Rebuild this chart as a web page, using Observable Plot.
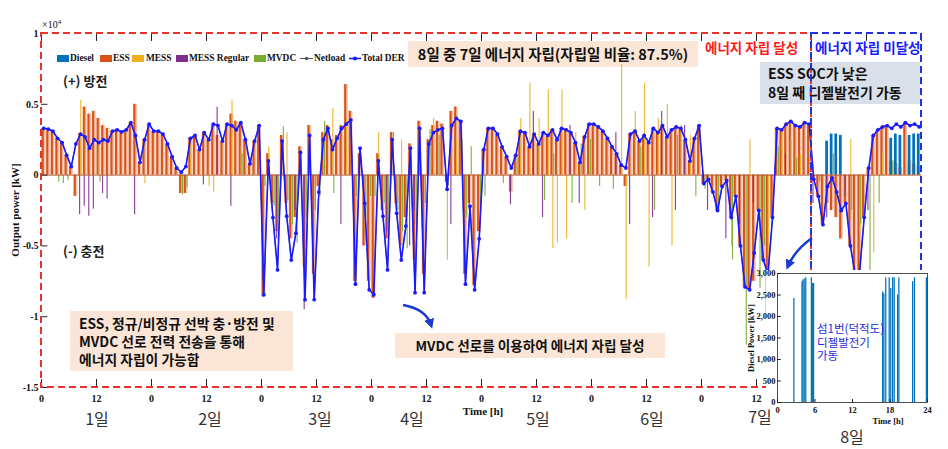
<!DOCTYPE html>
<html><head><meta charset="utf-8">
<script src="https://cdn.jsdelivr.net/npm/d3@7"></script>
<script src="https://cdn.jsdelivr.net/npm/@observablehq/plot@0.6"></script>
<style>
body{margin:0;background:#fff;}
#wrap{position:relative;width:948px;height:449px;overflow:hidden;font-family:"Noto Sans CJK KR","Noto Sans",sans-serif;}
.abs{position:absolute;white-space:nowrap;}
.box{position:absolute;white-space:nowrap;font-weight:700;color:#111;background:#fbe5d6;box-sizing:border-box;}
.serif{font-family:"Liberation Serif","Times New Roman",serif;font-weight:bold;color:#111;}
.day{position:absolute;font-size:16px;color:#333;transform:translateX(-50%);}
.leg{position:absolute;top:53px;font-family:"Liberation Serif",serif;font-weight:bold;font-size:9.4px;color:#111;}
.sw{position:absolute;top:55px;width:12px;height:7px;}
</style></head><body><div id="wrap"></div>
<script>
// ---------------- data ----------------
// Total DER / Netload, hourly, 8 days (kW)
const netload = [
 3300,3250,3100,2600,2300,1400,600,2200,2900,2700,1900,2500,2300,2500,2400,3100,3200,3050,3200,3700,2800,900,2500,3600,
 3100,3100,2900,2200,1300,500,200,600,2600,2800,1800,3000,2500,3600,3500,2400,3600,3500,3200,3700,2500,800,2400,3500,
 -8450,1000,-3000,-6700,2400,-2900,-6000,-4100,1600,-8800,2800,-8800,-1200,2500,3300,1800,2600,3300,3600,3900,-7700,1900,-2000,-8100,
 -8450,1000,-2900,-6700,2500,-2700,-6000,-3600,1900,-8300,3300,-8300,2200,3000,3200,3300,-1000,3500,4000,3800,-7700,-2200,-8100,-4500,
 1800,3300,3300,2900,2000,1300,500,1400,3100,3000,2000,2900,2200,3000,2800,3200,2500,3300,3200,3000,2300,900,2700,3600,
 3600,3400,3100,2600,2000,1500,700,500,2900,3100,2400,2800,2300,3300,3000,3500,2700,3200,3400,3300,2500,1000,2600,3500,
 -600,-300,-1200,-2500,-800,-400,-3000,-1500,-5000,-7900,-8100,-5500,-2500,-6000,-7000,-3000,3300,3200,3600,3800,3500,3400,3700,3600,
 -300,-1500,-3500,-800,-200,-1200,-2500,-2000,-5000,-7000,-6800,-3000,500,2800,3200,3400,3500,3300,3600,3400,3700,3500,3600,3400
];
const ess = [
 3300,3250,3100,2600,2300,1400,600,-1500,2900,4800,4300,4500,4000,3500,3300,3100,3200,3050,3200,3700,5000,900,2500,3600,
 3100,3100,2900,2200,1300,500,-1300,-1300,2600,2800,1800,3000,2500,3600,2800,2400,3600,4300,3800,3700,2500,800,2400,3500,
 -8600,1500,-2000,-4000,2800,-2000,-4500,-3000,2000,-6500,3500,-7000,-800,3000,3500,2500,2800,3500,6400,4500,-7500,1500,-5000,-7500,
 -8700,1500,-2500,-4500,3000,-2000,-5000,-3000,2200,-6000,3800,-7000,2500,3500,3800,3600,-500,4500,4800,3800,-7000,-2000,-7800,-4000,
 1800,3300,3300,2900,2000,1300,-1200,1400,3100,3000,2000,2900,2200,3000,2800,3200,2500,3300,3200,3000,2300,900,2700,3600,
 3600,3400,3100,2600,2000,1500,700,-800,2900,3100,2400,2800,2300,3300,3000,3500,2700,3200,3400,3300,2500,1000,2600,3500,
 -600,-300,-1200,-2500,-800,-400,-3000,-1500,-5000,-7900,-8100,-7500,-2500,-6000,-9800,-3000,3300,3200,3600,3800,3500,3400,3700,3600,
 -300,-1500,-3500,-2000,-2500,-3000,-4500,-2000,-5000,-7000,-6800,-3000,500,2800,3200,3400,3500,1000,800,500,3700,1000,800,600
];
// sparse [hour, kW]
const mess = [[8,5300],[9,4500],[12,2500],[16,1500],[22,-600],[32,2500],[36,-800],[37,-1200],[41,5300],[43,2000],
 [49,2000],[53,3000],[57,-9000],[58,1500],[63,4700],[66,4000],[73,3000],[78,2500],[85,4000],[88,-6000],[90,2500],
 [104,4000],[106,6500],[108,4000],[110,6000],[111,-5200],[112,-4800],[113,6000],[114,-4500],[116,3000],[118,-2500],
 [122,2500],[126,7800],[127,-8800],[129,4500],[131,6500],[132,-6500],[134,4000],[136,5000],[137,-5000],[139,3500],[141,2800],[143,3000],
 [147,-2000],[150,-5000],[154,2500],[158,-7500],[161,3000],[163,2500],[165,1500],[170,-1000],[176,2500],[178,-4000],[181,-5500],[183,1500]];
const messRegular = [[8,-2800],[9,-2200],[10,-2900],[11,-2400],[13,-1300],[14,-1700],[20,-2800],[35,-700],[38,4800],[41,-2200],
 [51,-4500],[55,-2500],[57,-9500],[65,-3500],[69,1500],[75,-4000],[80,-5000],[81,-2500],[89,-3500],[93,-2500],
 [102,-2100],[107,4500],[109,-3000],[115,3500],[117,-2000],[125,3000],[128,-3500],[133,-3000],[135,4500],[138,-2500],[140,3500],
 [145,-2500],[149,-4500],[152,-3500],[155,-2000],[162,1500],[168,-2000],[171,-3000],[175,-1500],[180,-2500]];
const mvdc = [[3,-500],[4,-600],[5,-400],[12,-500],[30,-1400],[31,-900],[43,1500],
 [48,-800],[50,-2200],[51,-3000],[52,3400],[53,-1800],[54,-3500],[55,-4800],[57,-3000],[59,-2500],[60,-1500],[61,3800],[63,-1300],[67,1000],[68,-1500],[70,-3000],[71,-1500],
 [72,-1500],[74,-2000],[75,-3500],[76,3000],[77,-2500],[78,-4000],[79,-5200],[81,-3500],[83,-2000],[84,3200],[86,2800],[88,-800],[91,2500],[92,-3000],[93,2000],[95,-2500],
 [96,-1500],[100,-600],[103,1200],[109,-1800],[111,1500],[115,-2000],[117,2200],[119,2500],
 [121,-800],[124,-1000],[130,2000],[133,-2500],[138,2800],[142,-1500],
 [144,-1000],[147,-2500],[150,-6000],[153,-12000],[156,-8000],[157,-5000],[160,2000],[164,1200],
 [169,-500],[172,1500],[176,-2500],[178,-3500],[180,-7000],[182,-2000],[185,1000]];
const diesel = [[171,2400],[172,2900],[173,2900],[174,2800],[185,2600],[186,2900],[187,2800],[189,2800],[190,2900],[191,2900]];
// inset: day 8 diesel operation [hour, kW]
const dieselInset = [[2.7,2420],[4.0,2810],[4.15,2850],[4.35,2870],[4.6,2900],[5.5,2900],[5.65,2770],[5.85,2770],
 [16.9,2570],[17.1,2530],[17.4,2900],[17.95,2900],[18.2,2650],[18.5,2900],[18.75,2900],[19.3,2500],[19.5,2900],
 [21.7,2810],[22.0,2900],[23.9,2900]];

const xTickHours = [0,12,24,36,48,60,72,84,96,108,120,132,144,156,168,180,192];
const xTickLabels = ["0","12","0","12","0","12","0","12","0","12","0","12","0","12","0","12","0"];
const yTickValues = [-15000,-10000,-5000,0,5000,10000];
const yTickLabels = ["-1.5","-1","-0.5","0","0.5","1"];
const insetXTicks = [0,6,12,18,24];
const insetYTicks = [0,500,1000,1500,2000,2500,3000];
const dayLabels = ["1일","2일","3일","4일","5일","6일","7일","8일"];

const C = {diesel:"#0072BD", ess:"#D95319", mess:"#EDB120", messR:"#7E2F8E", mvdc:"#77AC30", der:"#1a1aff", net:"#555"};

const netRows = netload.map((v,i)=>({t:i+0.5, v}));
const essRows = ess.map((v,i)=>({t:i, v}));
const pairRows = a => a.map(([h,v])=>({t:h, v}));

const wrap = document.getElementById("wrap");
function add(html){ wrap.insertAdjacentHTML("beforeend", html); }

// annotation boxes (beneath the data)
add(`<div class="box" style="left:408px;top:41px;width:290px;height:26px;font-size:14.5px;line-height:26px;text-align:center;">8일 중 7일 에너지 자립(자립일 비율: 87.5%)</div>`);
add(`<div class="box" style="left:760px;top:62px;width:160px;height:42px;background:#dae0ea;font-size:14px;line-height:19px;padding:2px 0 0 8px;">ESS SOC가 낮은<br>8일 째 디젤발전기 가동</div>`);
add(`<div class="box" style="left:70px;top:311px;width:223px;height:60px;font-size:13.8px;line-height:18px;padding:3px 0 0 9px;">ESS, 정규/비정규 선박 충·방전 및<br>MVDC 선로 전력 전송을 통해<br>에너지 자립이 가능함</div>`);
add(`<div class="box" style="left:395px;top:333px;width:270px;height:25px;font-size:13.6px;line-height:25px;text-align:center;">MVDC 선로를 이용하여 에너지 자립 달성</div>`);

const serif = "'Liberation Serif','Times New Roman',serif";
const yMin = -15000, yMax = 10000;

const main = Plot.plot({
  width: 948, height: 449,
  marginLeft: 41, marginRight: 27, marginTop: 33, marginBottom: 62,
  x: {domain: [0, 192]},
  y: {domain: [yMin, yMax]},
  style: {background: "transparent", fontFamily: serif, fontSize: "10px", fontWeight: "bold", color: "#111"},
  marks: [
    Plot.rect(essRows, {x1: d=>d.t+0.05, x2: d=>d.t+0.95, y1: 0, y2: "v", fill: C.ess, fillOpacity: 0.35}),
    Plot.rect(essRows, {x1: d=>d.t+0.15, x2: d=>d.t+0.6, y1: 0, y2: "v", fill: C.ess}),
    Plot.rect(pairRows(diesel), {x1: d=>d.t+0.1, x2: d=>d.t+0.7, y1: 0, y2: "v", fill: C.diesel}),
    Plot.rect(pairRows(mess), {x1: d=>d.t+0.55, x2: d=>d.t+0.8, y1: 0, y2: "v", fill: C.mess, fillOpacity: 0.9}),
    Plot.rect(pairRows(messRegular), {x1: d=>d.t+0.3, x2: d=>d.t+0.55, y1: 0, y2: "v", fill: C.messR, fillOpacity: 0.9}),
    Plot.rect(pairRows(mvdc), {x1: d=>d.t+0.75, x2: d=>d.t+1.0, y1: 0, y2: "v", fill: C.mvdc, fillOpacity: 0.9}),
    Plot.ruleY([0], {stroke: "#b5582a", strokeWidth: 1}),
    Plot.line(netRows, {x: "t", y: "v", stroke: C.net, strokeWidth: 0.8}),
    Plot.line(netRows, {x: "t", y: "v", stroke: C.der, strokeWidth: 1.6}),
    Plot.dot(netRows, {x: "t", y: "v", r: 1.9, fill: C.der, stroke: "none"}),
    // inward ticks
    Plot.ruleX(xTickHours, {x: d=>d, y1: yMax, y2: yMax - 560, stroke: "#222"}),
    Plot.ruleX(xTickHours, {x: d=>d, y1: yMin, y2: yMin + 560, stroke: "#222"}),
    Plot.ruleY(yTickValues, {y: d=>d, x1: 0, x2: 1.4, stroke: "#222"}),
    // dashed boxes
    Plot.rect([0], {x1: 0, x2: 168, y1: yMin, y2: yMax, fill: "none", stroke: "#e8322c", strokeWidth: 2, strokeDasharray: "7,4"}),
    Plot.rect([0], {x1: 168, x2: 192, y1: yMin, y2: yMax, fill: "none", stroke: "#2233dd", strokeWidth: 2, strokeDasharray: "7,4"}),
    Plot.axisX(xTickHours, {tickSize: 0, tickPadding: 7, label: null, tickFormat: d => xTickLabels[xTickHours.indexOf(d)]}),
    Plot.axisY(yTickValues, {tickSize: 0, tickPadding: 3, label: null, tickFormat: d => yTickLabels[yTickValues.indexOf(d)]})
  ]
});
main.style.position = "absolute"; main.style.left = "0px"; main.style.top = "0px";
wrap.appendChild(main);

// overlay texts
add(`<div class="abs serif" style="left:42px;top:18px;font-size:10px;font-weight:normal;">×10<sup style="font-size:7px">4</sup></div>`);
add(`<div class="abs serif" style="left:15px;top:210px;font-size:11px;transform:translate(-50%,-50%) rotate(-90deg);">Output power [kW]</div>`);
add(`<div class="abs serif" style="left:483px;top:411px;font-size:11px;transform:translate(-50%,-50%);">Time [h]</div>`);
add(`<div class="abs" style="left:63px;top:71px;font-size:13px;font-weight:700;color:#222;">(+) 방전</div>`);
add(`<div class="abs" style="left:63px;top:241px;font-size:13px;font-weight:700;color:#222;">(-) 충전</div>`);
add(`<div class="abs" style="left:705px;top:37px;font-size:13.5px;font-weight:700;color:#ff1a1a;">에너지 자립 달성</div>`);
add(`<div class="abs" style="left:815px;top:37px;font-size:13.5px;font-weight:700;color:#1a1aff;">에너지 자립 미달성</div>`);

// legend
const legItems = [
  {name:"Diesel", color:C.diesel, sw:57, tx:70},
  {name:"ESS", color:C.ess, sw:100, tx:113},
  {name:"MESS", color:C.mess, sw:132, tx:146},
  {name:"MESS Regular", color:C.messR, sw:176, tx:189},
  {name:"MVDC", color:C.mvdc, sw:254, tx:267}
];
legItems.forEach(it=>{
  add(`<div class="sw" style="left:${it.sw}px;background:${it.color}"></div><div class="leg" style="left:${it.tx}px">${it.name}</div>`);
});
add(`<svg class="abs" style="left:0;top:0" width="948" height="449">
  <line x1="300" y1="58.5" x2="313" y2="58.5" stroke="#555" stroke-width="1"/><circle cx="306.5" cy="58.5" r="1.8" fill="#555"/>
  <line x1="349" y1="58.5" x2="361" y2="58.5" stroke="#1a1aff" stroke-width="1.6"/><circle cx="355" cy="58.5" r="2" fill="#1a1aff"/>
  <defs><marker id="ah" viewBox="0 0 10 10" refX="6" refY="5" markerWidth="4" markerHeight="4" orient="auto"><path d="M0,0 L10,5 L0,10 z" fill="#1a3ad0"/></marker></defs>
  <path d="M403,305 Q426,309 431,325" fill="none" stroke="#1a3ad0" stroke-width="2.5" marker-end="url(#ah)"/>
  <path d="M812,238 Q795,250 788,266" fill="none" stroke="#1a3ad0" stroke-width="2.5" marker-end="url(#ah)"/>
</svg>`);
add(`<div class="leg" style="left:314px">Netload</div><div class="leg" style="left:362px">Total DER</div>`);

// day labels
const dayX = [97,210,320,412,538,652,760,852];
const dayY = [406,406,406,406,406,406,404,424];
dayLabels.forEach((s,i)=>{ if(i<6) add(`<div class="day" style="left:${dayX[i]}px;top:${dayY[i]}px">${s}</div>`); });

// inset
add(`<div class="abs" style="left:766px;top:270px;width:169px;height:179px;background:#fff;"></div>`);
const inset = Plot.plot({
  width: 190, height: 179,
  marginLeft: 32, marginRight: 8, marginTop: 8, marginBottom: 42,
  x: {domain: [0, 24]},
  y: {domain: [0, 3000]},
  style: {background: "transparent", fontFamily: serif, fontSize: "8.5px", fontWeight: "bold", color: "#111", overflow: "visible"},
  marks: [
    Plot.rect(dieselInset, {x1: d=>d[0]-0.1, x2: d=>d[0]+0.1, y1: 0, y2: d=>d[1], fill: C.diesel}),
    Plot.frame({stroke: "#222", strokeWidth: 0.8}),
    Plot.ruleX(insetXTicks, {x: d=>d, y1: 0, y2: 70, stroke: "#222"}),
    Plot.ruleY(insetYTicks, {y: d=>d, x1: 0, x2: 0.6, stroke: "#222"}),
    Plot.axisX(insetXTicks, {tickSize: 0, tickPadding: 4, label: null}),
    Plot.axisY(insetYTicks, {tickSize: 0, tickPadding: 2, label: null})
  ]
});
inset.style.position = "absolute"; inset.style.left = "745px"; inset.style.top = "265px";
wrap.appendChild(inset);
add(`<div class="abs serif" style="left:751px;top:338px;font-size:8.5px;transform:translate(-50%,-50%) rotate(-90deg);">Diesel Power [kW]</div>`);
add(`<div class="abs serif" style="left:888px;top:421px;font-size:8.5px;transform:translate(-50%,-50%);">Time [h]</div>`);
add(`<div class="abs" style="left:817px;top:322px;font-size:11.5px;line-height:13.5px;color:#2a2ae0;">섬1번(덕적도)<br>디젤발전기<br>가동</div>`);
add(`<div class="day" style="left:${dayX[6]}px;top:${dayY[6]}px">${dayLabels[6]}</div>`);
add(`<div class="day" style="left:${dayX[7]}px;top:${dayY[7]}px">${dayLabels[7]}</div>`);
</script></body></html>
